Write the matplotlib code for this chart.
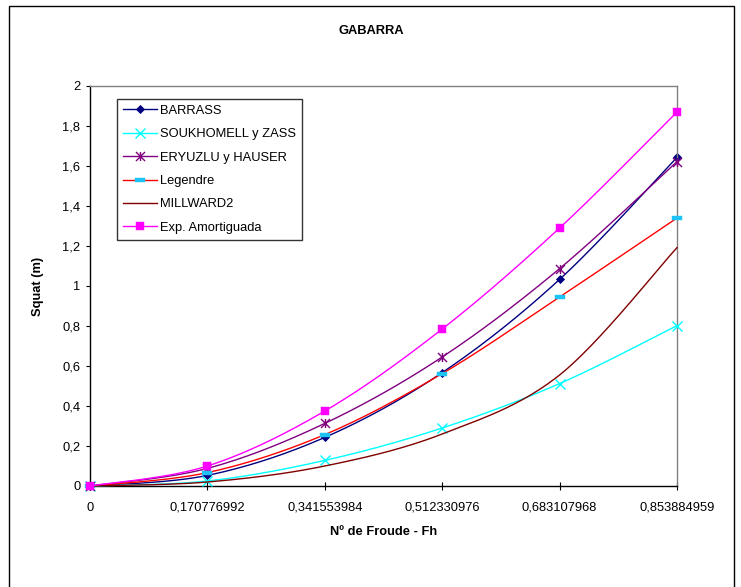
import numpy as np
import matplotlib
matplotlib.use("Agg")
import matplotlib.pyplot as plt
from matplotlib.path import Path
from matplotlib.patches import Rectangle

# ---- data -------------------------------------------------------------
froude_labels = ["0", "0,170776992", "0,341553984", "0,512330976",
                 "0,683107968", "0,853884959"]

barrass = [0.0, 0.053, 0.243, 0.567, 1.033, 1.643]
soukhomell = [0.0, 0.025, 0.128, 0.290, 0.512, 0.802]
eryuzlu = [0.0, 0.088, 0.313, 0.645, 1.087, 1.622]
legendre = [0.0, 0.067, 0.257, 0.562, 0.945, 1.340]
millward2 = [0.0, 0.020, 0.100, 0.260, 0.555, 1.192]
exp_amort = [0.0, 0.100, 0.375, 0.785, 1.290, 1.870]

y_ticks = [0, 0.2, 0.4, 0.6, 0.8, 1.0, 1.2, 1.4, 1.6, 1.8, 2.0]
y_tick_labels = ["0", "0,2", "0,4", "0,6", "0,8", "1", "1,2", "1,4",
                 "1,6", "1,8", "2"]

# ---- helpers ----------------------------------------------------------
def smooth(xs, ys, n=30):
    """Bezier smoothing through the points (Catmull-Rom style)."""
    p = np.column_stack([xs, ys]).astype(float)
    ext = np.vstack([p[0], p, p[-1]])
    out = []
    t = np.linspace(0, 1, n)[:, None]
    for i in range(len(p) - 1):
        p0, p1, p2, p3 = ext[i], ext[i + 1], ext[i + 2], ext[i + 3]
        c1 = p1 + (p2 - p0) / 6.0
        c2 = p2 - (p3 - p1) / 6.0
        seg = ((1 - t) ** 3) * p1 + 3 * ((1 - t) ** 2) * t * c1 \
            + 3 * (1 - t) * t ** 2 * c2 + t ** 3 * p2
        out.append(seg if i == 0 else seg[1:])
    s = np.vstack(out)
    return s[:, 0], s[:, 1]

star = Path([(-1, -1), (1, 1), (-1, 1), (1, -1), (0, -1), (0, 1)],
            [Path.MOVETO, Path.LINETO, Path.MOVETO, Path.LINETO,
             Path.MOVETO, Path.LINETO])
dash = Path([(-1, -0.42), (1, -0.42), (1, 0.42), (-1, 0.42), (-1, -0.42)],
            [Path.MOVETO, Path.LINETO, Path.LINETO, Path.LINETO,
             Path.CLOSEPOLY])

plt.rcParams["font.family"] = ["Liberation Sans", "DejaVu Sans"]
plt.rcParams["font.size"] = 9.3

fig = plt.figure(figsize=(7.41, 5.87), dpi=100)
fig.patch.set_facecolor("white")
ax = fig.add_axes([90 / 741, 1 - 486 / 587, 587 / 741, 400 / 587])

x = np.arange(len(froude_labels))

series = [
    ("BARRASS", barrass, "#000080",
     dict(marker="D", ms=4.3, mfc="#000080", mec="#000080", mew=0.6)),
    ("SOUKHOMELL y ZASS", soukhomell, "#00FFFF",
     dict(marker="x", ms=6.5, mfc="none", mec="#00FFFF", mew=1.0)),
    ("ERYUZLU y HAUSER", eryuzlu, "#800080",
     dict(marker=star, ms=6.5, mfc="none", mec="#800080", mew=1.0)),
    ("Legendre", legendre, "#FF0000",
     dict(marker=dash, ms=6.6, mfc="#1EC3F5", mec="#1EC3F5", mew=0.3)),
    ("MILLWARD2", millward2, "#800000", dict(marker=None)),
    ("Exp. Amortiguada", exp_amort, "#FF00FF",
     dict(marker="s", ms=6.0, mfc="#FF00FF", mec="#FF00FF", mew=0.3)),
]

handles = []
for i, (name, vals, col, mk) in enumerate(series):
    sx, sy = smooth(x, vals)
    ax.plot(sx, sy, color=col, lw=1.0, zorder=2 + i, clip_on=False)
    if mk.get("marker") is not None:
        ax.plot(x, vals, linestyle="none", zorder=2 + i, clip_on=False, **mk)
    h, = ax.plot([], [], color=col, lw=1.0, **mk)
    h.set_label(name)
    handles.append(h)

ax.set_xlim(0, len(froude_labels) - 1)
ax.set_ylim(0, 2)
ax.set_xticks(x)
ax.set_xticklabels(froude_labels)
ax.set_yticks(y_ticks)
ax.set_yticklabels(y_tick_labels)

ax.tick_params(axis="x", direction="inout", length=6, width=0.8, pad=8.5,
               colors="black")
ax.tick_params(axis="y", direction="out", length=3, width=0.8, pad=4,
               colors="black")

for side in ("left", "bottom"):
    ax.spines[side].set_color("black")
    ax.spines[side].set_linewidth(1.0)
for side in ("top", "right"):
    ax.spines[side].set_color("#808080")
    ax.spines[side].set_linewidth(1.0)

fig.text(371 / 741, 1 - 31 / 587, "GABARRA", fontweight="bold",
         fontsize=9.3, ha="center", va="center")

ax.set_xlabel("Nº de Froude - Fh", fontweight="bold", labelpad=9)
ax.set_ylabel("Squat (m)", fontweight="bold", labelpad=13)

leg = ax.legend(handles=handles, loc="upper left",
                bbox_to_anchor=(27 / 587, (486 - 99) / 400),
                borderaxespad=0, frameon=True, fancybox=False,
                edgecolor="black", borderpad=0.45, labelspacing=0.88,
                handlelength=2.65, handletextpad=0.25, numpoints=1)
leg.get_frame().set_linewidth(1.0)

# outer chart border
fig.patches.append(Rectangle((9 / 741, -0.02), (734 - 9) / 741,
                             1.02 - 6 / 587, transform=fig.transFigure,
                             fill=False, edgecolor="black", lw=1.0))

fig.savefig("out.png", dpi=100, facecolor="white")
